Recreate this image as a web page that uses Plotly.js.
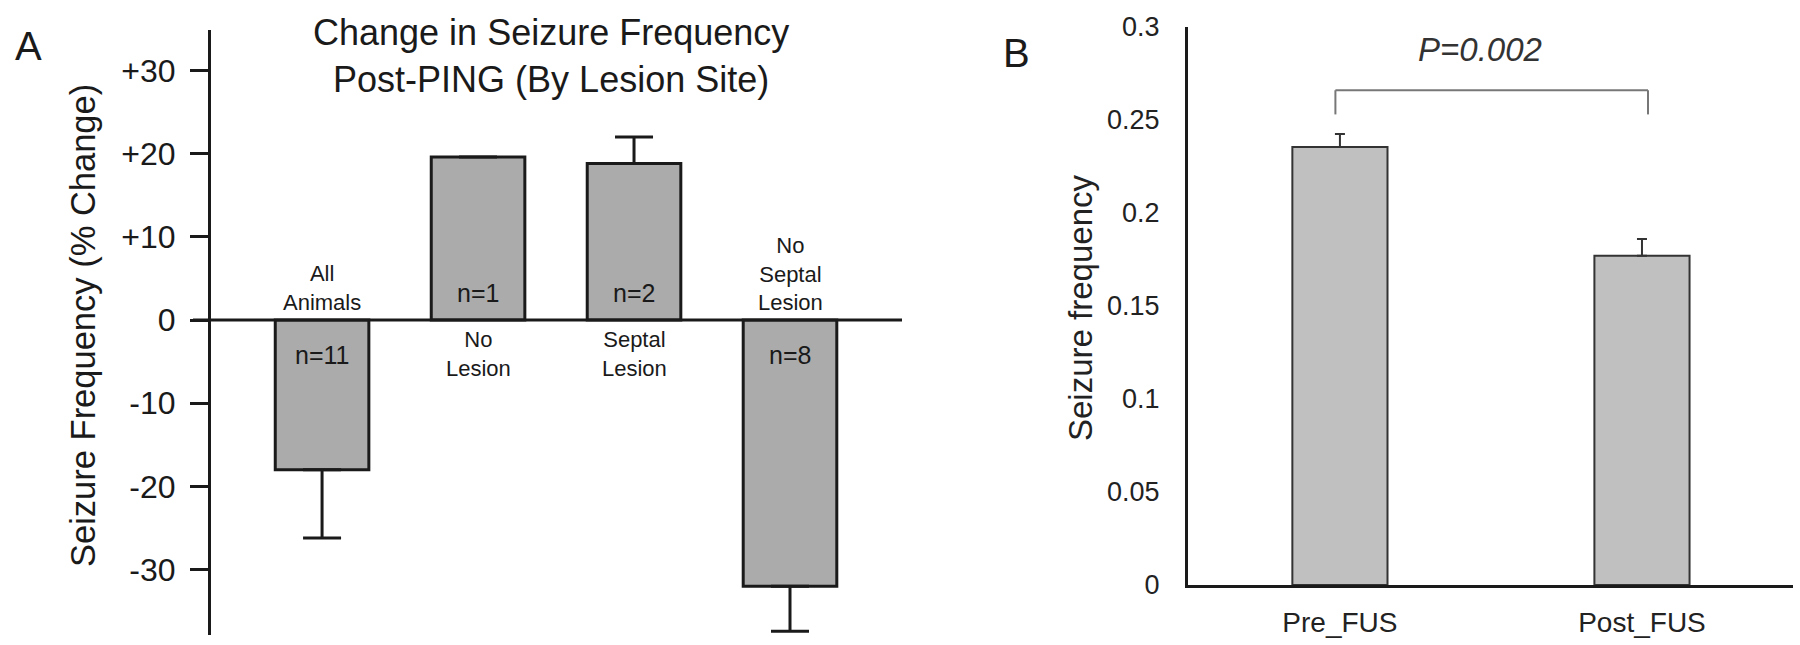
<!DOCTYPE html>
<html>
<head>
<meta charset="utf-8">
<script src="https://cdn.plot.ly/plotly-3.0.1.min.js"></script>
<style>html,body{margin:0;padding:0;background:#fff;}#chart{width:1800px;height:645px;}</style>
</head>
<body>
<div id="chart"></div>
<script>
// ---- Panel A data ----
const catsA = ["All Animals", "No Lesion", "Septal Lesion", "No Septal Lesion"];
const catLinesA = [["All", "Animals"], ["No", "Lesion"], ["Septal", "Lesion"], ["No", "Septal", "Lesion"]];
const valsA = [-18.0, 19.6, 18.8, -32.0];
const errA = [8.2, 0, 3.2, 5.4];
const nLabelsA = ["n=11", "n=1", "n=2", "n=8"];
const tickValsA = [30, 20, 10, 0, -10, -20, -30];
const tickTextA = ["+30", "+20", "+10", "0", "-10", "-20", "-30"];
const titleA = "Change in Seizure Frequency<br>Post-PING (By Lesion Site)";
const yTitleA = "Seizure Frequency (% Change)";

// ---- Panel B data ----
const catsB = ["Pre_FUS", "Post_FUS"];
const valsB = [0.2355, 0.177];
const errB = [0.007, 0.009];
const tickValsB = [0, 0.05, 0.1, 0.15, 0.2, 0.25, 0.3];
const tickTextB = ["0", "0.05", "0.1", "0.15", "0.2", "0.25", "0.3"];
const yTitleB = "Seizure frequency";
const pText = "P=0.002";

const FONT = "Liberation Sans, Arial, Helvetica, sans-serif";
const INK = "#1a1a1a";
const W = 1800, H = 645;
const px = v => v / W;
const py = v => (H - v) / H;

const traceA = {
  type: "bar", x: catsA, y: valsA, width: 0.6,
  xaxis: "x", yaxis: "y",
  marker: {color: "#ababab", line: {color: INK, width: 3}},
  error_y: {
    type: "data", symmetric: false,
    array: errA.map((e, i) => valsA[i] > 0 ? e : 0),
    arrayminus: errA.map((e, i) => valsA[i] < 0 ? e : 0),
    color: INK, thickness: 3, width: 19
  },
  hoverinfo: "skip"
};

const traceB = {
  type: "bar", x: catsB, y: valsB, width: 0.315,
  xaxis: "x2", yaxis: "y2",
  marker: {color: "#c0c0c0", line: {color: "#333", width: 2}},
  error_y: {
    type: "data", symmetric: false,
    array: errB, arrayminus: errB.map(() => 0),
    color: "#333", thickness: 2, width: 5
  },
  hoverinfo: "skip"
};

const annotations = [];
// Titles / panel letters
annotations.push({xref: "paper", yref: "paper", x: px(551), y: py(56), text: titleA, showarrow: false,
  xanchor: "center", yanchor: "middle", font: {family: FONT, size: 36, color: INK}});
annotations.push({xref: "paper", yref: "paper", x: px(28), y: py(46), text: "A", showarrow: false,
  xanchor: "center", yanchor: "middle", font: {family: FONT, size: 40, color: INK}});
annotations.push({xref: "paper", yref: "paper", x: px(1016), y: py(53), text: "B", showarrow: false,
  xanchor: "center", yanchor: "middle", font: {family: FONT, size: 40, color: INK}});
annotations.push({xref: "paper", yref: "paper", x: px(83), y: py(326), text: yTitleA, textangle: -90, showarrow: false,
  xanchor: "center", yanchor: "middle", font: {family: FONT, size: 34.5, color: INK}});
annotations.push({xref: "paper", yref: "paper", x: px(1080), y: py(308), text: yTitleB, textangle: -90, showarrow: false,
  xanchor: "center", yanchor: "middle", font: {family: FONT, size: 33, color: "#222"}});

// Category and n labels for panel A
catsA.forEach((c, i) => {
  const neg = valsA[i] < 0;
  annotations.push({xref: "x", yref: "y", x: c, y: 0, yshift: neg ? 3 : -5,
    text: catLinesA[i].join("<br>"), showarrow: false,
    xanchor: "center", yanchor: neg ? "bottom" : "top", font: {family: FONT, size: 22, color: INK}});
  annotations.push({xref: "x", yref: "y", x: c, y: 0, yshift: neg ? -35 : 27, text: nLabelsA[i], showarrow: false,
    xanchor: "center", yanchor: "middle", font: {family: FONT, size: 25, color: INK}});
});

// P-value bracket
const topB = Math.max(...valsB.map((v, i) => v + errB[i]));
const bracketTop = topB + 0.0235;
const legBottom = bracketTop - 0.013;
annotations.push({xref: "x2", yref: "y2", x: 0.465, y: bracketTop + 0.022, text: "<i>" + pText + "</i>", showarrow: false,
  xanchor: "center", yanchor: "middle", font: {family: FONT, size: 33, color: "#333"}});

const shapes = [
  {type: "line", xref: "paper", yref: "y", x0: px(193), x1: px(902), y0: 0, y1: 0, line: {color: INK, width: 3}},
  {type: "line", xref: "x2", yref: "y2", x0: -0.015, x1: -0.015, y0: legBottom, y1: bracketTop, line: {color: "#777", width: 2}},
  {type: "line", xref: "x2", yref: "y2", x0: -0.015, x1: 1.02, y0: bracketTop, y1: bracketTop, line: {color: "#777", width: 2}},
  {type: "line", xref: "x2", yref: "y2", x0: 1.02, x1: 1.02, y0: legBottom, y1: bracketTop, line: {color: "#777", width: 2}}
];

const layout = {
  width: W, height: H,
  margin: {l: 0, r: 0, t: 0, b: 0, pad: 0},
  paper_bgcolor: "#fff", plot_bgcolor: "rgba(0,0,0,0)",
  showlegend: false,
  font: {family: FONT, color: INK},
  xaxis: {domain: [px(211), px(902)], range: [-0.712, 3.718], type: "category",
    showticklabels: false, showline: false, showgrid: false, zeroline: false, ticks: "", fixedrange: true},
  yaxis: {domain: [py(635), py(30)], range: [-37.86, 34.86],
    showline: true, linewidth: 3, linecolor: INK, ticks: "outside", ticklen: 18, tickwidth: 3, tickcolor: INK,
    tickvals: tickValsA, ticktext: tickTextA, tickfont: {family: FONT, size: 32, color: INK},
    showgrid: false, zeroline: false, ticklabelstandoff: 8, fixedrange: true},
  xaxis2: {domain: [px(1188), px(1793)], range: [-0.503, 1.5], type: "category", anchor: "y2",
    showline: true, linewidth: 3, linecolor: INK, ticks: "outside", ticklen: 10, tickcolor: "rgba(0,0,0,0)",
    tickfont: {family: FONT, size: 28, color: "#222"}, showgrid: false, zeroline: false, fixedrange: true},
  yaxis2: {domain: [py(585), py(27)], range: [0, 0.3], anchor: "x2",
    showline: true, linewidth: 3, linecolor: INK, ticks: "outside", ticklen: 20, tickcolor: "rgba(0,0,0,0)",
    tickvals: tickValsB, ticktext: tickTextB, tickfont: {family: FONT, size: 27, color: "#222"},
    showgrid: false, zeroline: false, fixedrange: true},
  annotations: annotations,
  shapes: shapes
};

Plotly.newPlot("chart", [traceA, traceB], layout, {staticPlot: true, displayModeBar: false});
</script>
</body>
</html>
